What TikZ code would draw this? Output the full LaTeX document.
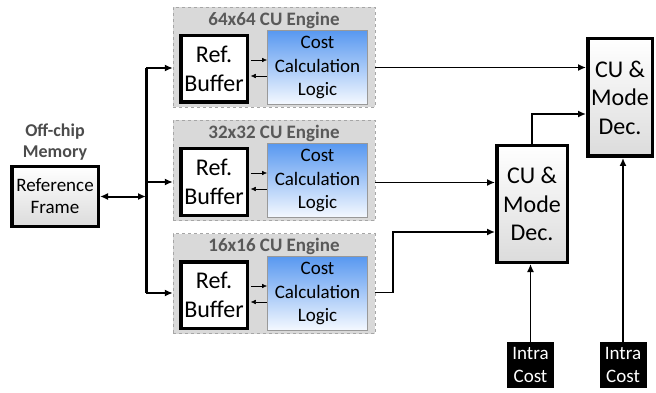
\documentclass[tikz,border=0pt]{standalone}
\usepackage{fontspec}
\setmainfont{Carlito}
\usetikzlibrary{arrows,arrows.meta,calc,positioning}
\tikzset{
    engine/.style = {rectangle,
                    fill=black!15,
                    draw=black!35,
                    dashed,
                    thin,
                    minimum width=202pt,
                    minimum height=100pt,
                    inner sep=0pt},
    title/.style =  {text=black!65,
                    font=\fontsize{19}{22}\selectfont\bfseries,
                    inner sep=0pt},
    buffer/.style = {rectangle,
                    fill=white,
                    draw=black,
                    line width=3.5pt,
                    align=center,
                    minimum width=66.5pt,
                    minimum height=66.5pt,
                    inner sep=0pt,
                    font=\fontsize{24}{29}\selectfont},
    calc/.style =   {rectangle,
                    top color={rgb,255:red,88;green,152;blue,240},
                    bottom color={rgb,255:red,245;green,249;blue,255},
                    draw=black!40,
                    line width=1pt,
                    align=center,
                    minimum width=100pt,
                    minimum height=74pt,
                    inner sep=0pt,
                    font=\fontsize{19}{23.5}\selectfont},
    decide/.style = {rectangle,
                    top color=white,
                    bottom color=black!14,
                    draw=black,
                    line width=3.5pt,
                    align=center,
                    inner sep=0pt,
                    font=\fontsize{24}{28.5}\selectfont},
    intra/.style =  {rectangle,
                    fill=black,
                    text=white,
                    align=center,
                    minimum width=47pt,
                    minimum height=46pt,
                    inner sep=0pt,
                    font=\fontsize{19}{23}\selectfont},
    wire/.style =   {line width=1.5pt, -{Latex[length=8pt,width=7pt]}},
    >={Latex[length=5pt,width=4.5pt]}}

\begin{document}
\begin{tikzpicture}[x=1pt,y=-1pt]
    \useasboundingbox (0,0) rectangle (656,393);

    % off-chip memory
    \node[title, align=center, text=black!70, font=\fontsize{18}{21}\selectfont\bfseries]
        (M) at (55,142) {Off-chip\\Memory};
    \node[decide, minimum width=86.5pt, minimum height=59.5pt,
          font=\fontsize{19}{22}\selectfont]
        (R) at (55,196.5) {Reference\\Frame};

    % the three CU engines
    \foreach \n/\y in {64/57.5, 32/170.5, 16/283.5}{
        \node[engine]   (E\n) at (274,\y) {};
        \node[title]    (T\n) [below=5pt of E\n.north] {\n x\n\ CU Engine};
        \node[buffer]   (B\n) at ($(E\n)+(-60,11.5)$) {Ref.\\Buffer};
        \node[calc]     (C\n) at ($(E\n)+(43.5,10)$) {Cost\\Calculation\\Logic};
        \draw[thin,->] ($(B\n.east)+(1.75,-9)$) -- ($(C\n.west)+(0,-7.5)$);
        \draw[thin,<-] ($(B\n.east)+(1.75,7)$) -- ($(C\n.west)+(0,8.5)$);
    }

    % decision units and intra costs
    \node[decide, minimum width=64.5pt, minimum height=117.5pt]
        (Dt) at (620,97.5) {CU \&\\Mode\\Dec.};
    \node[decide, minimum width=70.5pt, minimum height=116.5pt]
        (Dm) at (532,204) {CU \&\\Mode\\Dec.};
    \node[intra] (I1) at (530.5,365) {Intra\\Cost};
    \node[intra] (I2) at (623,365)   {Intra\\Cost};

    % bus
    \coordinate (Bt) at (146,68);
    \coordinate (Bb) at (146,293);
    \draw[line width=3pt] (Bt) -- (Bb);
    \draw[line width=2pt, {Latex[length=8pt,width=7pt]}-{Latex[length=8pt,width=7pt]}]
        (R.east) -- (R.east -| Bt);
    \draw[wire] (Bt) -- (Bt -| E64.west);
    \draw[wire] (Bt |- B32) -- (E32.west |- B32);
    \draw[wire] (Bb) -- (Bb -| E16.west);

    % outputs
    \draw[wire] (E64.east |- C64) -- (Dt.west |- C64);
    \draw[wire] ($(E32.east |- C32)+(0,2)$) -- ($(Dm.west |- C32)+(0,2)$);
    \draw[wire] ($(E16.east |- C16)+(0,-1)$) -- ++(18,0) |- ($(Dm.west)+(0,28)$);
    \draw[wire] (Dm.north) |- ($(Dt.west)+(0,16.5)$);
    \draw[wire] (I1.north) -- (I1.north |- Dm.south);
    \draw[wire] (I2.north) -- (I2.north |- Dt.south);
\end{tikzpicture}
\end{document}
